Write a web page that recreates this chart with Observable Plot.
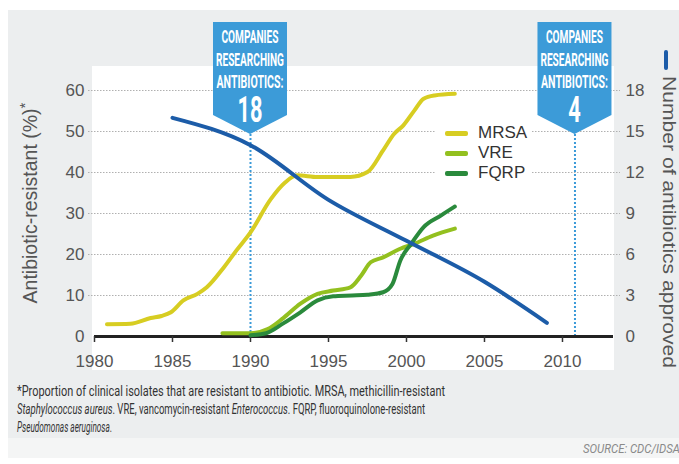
<!DOCTYPE html>
<html><head><meta charset="utf-8">
<script src="https://cdn.jsdelivr.net/npm/d3@7"></script>
<script src="https://cdn.jsdelivr.net/npm/@observablehq/plot@0.6"></script>
<style>
body{margin:0;width:679px;height:464px;position:relative;background:#fff;overflow:hidden;font-family:"Liberation Sans",Arial,sans-serif}
#bg{position:absolute;left:8px;top:10px;width:671px;height:428px;background:#eceeef}
#strip{position:absolute;left:8px;top:438px;width:671px;height:20px;background:#f4f5f5}
#panel{position:absolute;left:92px;top:66px;width:522px;height:304px;background:#fff}
#chart{position:absolute;left:0;top:0}
#legend{position:absolute;left:436px;top:121px;width:96px;height:63px;background:#fff}
.row{position:absolute;left:9px;height:20px;display:flex;align-items:center;font-size:17px;color:#333}
.sw{width:23px;height:5px;border-radius:2px;margin-right:10px}
</style></head>
<body>
<div id="bg"></div><div id="strip"></div><div id="panel"></div>
<div id="chart"></div>
<div id="legend"></div>
<script>
// ---- data ----
const seriesNames = ["MRSA", "VRE", "FQRP"];
const seriesColors = ["#d7cd22", "#93c01f", "#2a8a3c"];

const mrsaYears = [1980.8, 1982.3, 1983.6, 1984.3, 1984.9, 1985.7, 1986.6, 1987.2, 1988.3, 1989.1, 1990.0, 1991.3, 1992.2, 1993.0, 1994.3, 1996.4, 1997.5, 1998.5, 1999.2, 1999.8, 2000.5, 2001.1, 2001.8, 2003.1];
const mrsaPct   = [3.0, 3.1, 4.5, 5.0, 5.9, 8.8, 10.4, 12.0, 16.9, 21.0, 25.4, 33.5, 37.5, 39.3, 38.9, 38.9, 40.1, 45.4, 49.4, 51.5, 55.1, 58.0, 58.8, 59.2];

const vreYears = [1988.2, 1990.0, 1991.1, 1992.1, 1993.2, 1994.3, 1995.3, 1996.4, 1997.1, 1997.7, 1998.5, 1999.6, 2000.5, 2001.7, 2003.1];
const vrePct   = [0.8, 0.8, 1.8, 4.5, 8.0, 10.4, 11.2, 12.0, 14.9, 18.1, 19.3, 21.4, 22.6, 24.6, 26.3];

const fqrpYears = [1990.0, 1991.0, 1992.1, 1993.2, 1994.3, 1995.3, 1996.5, 1997.5, 1998.5, 1999.1, 1999.6, 2000.3, 2001.1, 2002.2, 2003.1];
const fqrpPct   = [0.3, 0.8, 3.2, 5.9, 8.8, 9.8, 10.0, 10.2, 10.8, 12.8, 18.5, 22.6, 26.7, 29.5, 31.7];

const approvedYears = [1985, 1990, 1995, 2000, 2005, 2009];
const approvedCount = [16, 14, 10, 7, 4, 1];

const calloutYears = [1990, 2010.8];
const calloutCounts = ["18", "4"];
const calloutLines = ["COMPANIES", "RESEARCHING", "ANTIBIOTICS:"];

const xTicks = [1980, 1985, 1990, 1995, 2000, 2005, 2010];
const leftTicks = [0, 10, 20, 30, 40, 50, 60];
const rightTicks = [0, 3, 6, 9, 12, 15, 18];
const rightRatio = 60 / 18;

// ---- tables ----
const toRows = (xs, ys, name) => xs.map((x, i) => ({x, y: ys[i], name}));
const mrsa = toRows(mrsaYears, mrsaPct, "MRSA");
const vre = toRows(vreYears, vrePct, "VRE");
const fqrp = toRows(fqrpYears, fqrpPct, "FQRP");
const approved = approvedYears.map((x, i) => ({x, y: approvedCount[i] * rightRatio}));

const font = "Liberation Sans, Arial, sans-serif";
const plot = Plot.plot({
  width: 679, height: 464,
  marginLeft: 94, marginRight: 66, marginTop: 90, marginBottom: 128,
  x: {domain: [1980, 2013.27]},
  y: {domain: [0, 60]},
  style: {background: "transparent", fontFamily: font, fontSize: "17px", color: "#555", overflow: "visible"},
  marks: [
    Plot.gridY(leftTicks.slice(1), {stroke: "#b0b0b0", strokeOpacity: 1, strokeWidth: 1, strokeDasharray: "1.5,1.5", insetLeft: -6, insetRight: -7}),
    Plot.ruleX(calloutYears, {y1: 0, y2: 49.4, stroke: "#3b9ad8", strokeWidth: 2, strokeDasharray: "2,2"}),
    Plot.ruleY([0], {stroke: "#222", strokeWidth: 3}),
    Plot.axisX(xTicks, {tickSize: 6, tickPadding: 12, tickFormat: d => String(d), stroke: "#333", strokeWidth: 1.5, fill: "#555", label: null}),
    Plot.axisY(leftTicks, {anchor: "left", tickSize: 0, tickPadding: 10, label: null}),
    Plot.axisY(rightTicks.map(d => d * rightRatio), {anchor: "right", tickSize: 0, tickPadding: 12, tickFormat: d => String(Math.round(d / rightRatio)), label: null}),
    Plot.line(vre, {x: "x", y: "y", stroke: seriesColors[1], strokeWidth: 4, curve: "monotone-x"}),
    Plot.line(fqrp, {x: "x", y: "y", stroke: seriesColors[2], strokeWidth: 4, curve: "monotone-x"}),
    Plot.line(mrsa, {x: "x", y: "y", stroke: seriesColors[0], strokeWidth: 4, curve: "monotone-x"}),
    Plot.line(approved, {x: "x", y: "y", stroke: "#1c5ca8", strokeWidth: 4, curve: "monotone-x"})
  ]
});
document.getElementById("chart").appendChild(plot);

// ---- annotations ----
const svg = d3.select(plot);
const xs = plot.scale("x");
calloutYears.forEach((yr, i) => {
  const cx = xs.apply(yr);
  const g = svg.append("g");
  g.append("path").attr("d", `M${cx-37},22H${cx+37}V115L${cx},134L${cx-37},115Z`).attr("fill", "#3c9bd8");
  const widths = [57, 68, 67];
  calloutLines.forEach((t, j) => {
    g.append("text").attr("x", cx).attr("y", 43 + j * 22.5).attr("text-anchor", "middle")
      .attr("fill", "#fff").attr("font-family", "Roboto, Liberation Sans, sans-serif").attr("font-weight", "bold")
      .attr("font-size", 18).attr("textLength", widths[j]).attr("lengthAdjust", "spacingAndGlyphs").text(t);
  });
  g.append("text").attr("x", cx).attr("y", 122).attr("text-anchor", "middle")
    .attr("fill", "#fff").attr("font-family", "Roboto, Liberation Sans, sans-serif").attr("font-weight", "bold")
    .attr("font-size", 36).attr("textLength", calloutCounts[i].length * 12.5).attr("lengthAdjust", "spacingAndGlyphs").text(calloutCounts[i]);
});

// left title
const lt = svg.append("text").attr("transform", "translate(37,203) rotate(-90)").attr("text-anchor", "middle")
  .attr("font-family", font).attr("font-size", 19.5).attr("fill", "#555");
lt.append("tspan").text("Antibiotic-resistant (%)");
lt.append("tspan").attr("dy", -7).attr("font-size", 15).text("*");

// right title + indicator
svg.append("rect").attr("x", 664).attr("y", 50).attr("width", 4).attr("height", 20).attr("rx", 2).attr("fill", "#1c5ca8");
svg.append("text").attr("transform", "translate(663,222) rotate(90)").attr("text-anchor", "middle")
  .attr("font-family", font).attr("font-size", 19).attr("fill", "#555")
  .attr("textLength", 292).attr("lengthAdjust", "spacingAndGlyphs").text("Number of antibiotics approved");

// caption
const capFont = "Roboto, Liberation Sans, sans-serif";
const capLines = [
  [["*Proportion of clinical isolates that are resistant to antibiotic. MRSA, methicillin-resistant", false]],
  [["Staphylococcus aureus", true], [". VRE, vancomycin-resistant ", false], ["Enterococcus", true], [". FQRP, fluoroquinolone-resistant", false]],
  [["Pseudomonas aeruginosa", true], [".", false]]
];
const capWidths = [428, 408, 95];
capLines.forEach((parts, i) => {
  const t = svg.append("text").attr("x", 17).attr("y", 396 + i * 18).attr("text-anchor", "start").attr("font-family", capFont)
    .attr("font-size", 15).attr("fill", "#333").attr("textLength", capWidths[i]).attr("lengthAdjust", "spacingAndGlyphs");
  parts.forEach(([s, it]) => t.append("tspan").attr("font-style", it ? "italic" : "normal").text(s));
});
svg.append("text").attr("x", 680).attr("y", 453).attr("text-anchor", "end").attr("font-family", capFont)
  .attr("font-size", 13).attr("font-style", "italic").attr("fill", "#8a8a8a").attr("textLength", 97).attr("lengthAdjust", "spacingAndGlyphs").text("SOURCE: CDC/IDSA");

// legend
const leg = document.getElementById("legend");
seriesNames.forEach((n, i) => {
  const r = document.createElement("div");
  r.className = "row"; r.style.top = (2 + i * 20) + "px";
  r.innerHTML = `<div class="sw" style="background:${seriesColors[i]}"></div><span>${n}</span>`;
  leg.appendChild(r);
});
</script>
</body></html>
